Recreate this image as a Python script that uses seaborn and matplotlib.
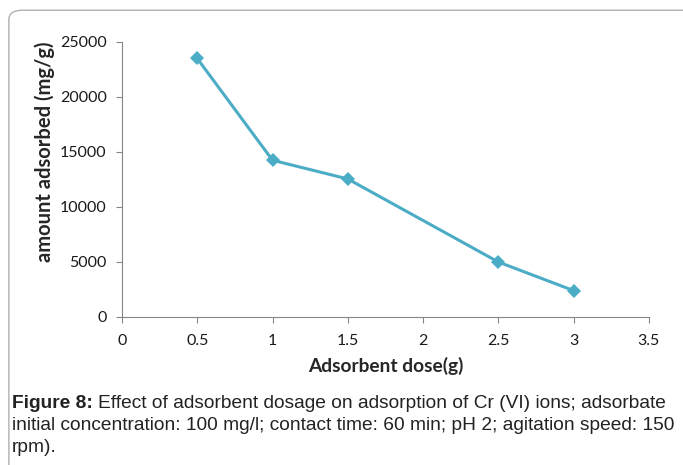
import matplotlib
matplotlib.use('Agg')
import matplotlib.pyplot as plt
import seaborn as sns
import pandas as pd
from matplotlib.patches import FancyBboxPatch

# data
dose = [0.5, 1, 1.5, 2.5, 3]
amount = [23500, 14250, 12550, 5000, 2400]
x_ticks = [0, 0.5, 1, 1.5, 2, 2.5, 3, 3.5]
x_tick_labels = ['0', '0.5', '1', '1.5', '2', '2.5', '3', '3.5']
y_ticks = [0, 5000, 10000, 15000, 20000, 25000]

df = pd.DataFrame({'dose': dose, 'amount': amount})

sns.set_theme(style="white")
plt.rcParams['font.family'] = ['Lato', 'DejaVu Sans']

fig = plt.figure(figsize=(6.83, 4.65), dpi=100)
ax = fig.add_axes([0.1786, 0.3183, 0.7714, 0.5914])

sns.lineplot(data=df, x='dose', y='amount', ax=ax, color='#4BACC6',
             linewidth=2.2, marker='D', markersize=7, markeredgewidth=0)

ax.set_xlim(0, 3.5)
ax.set_ylim(0, 25000)
ax.set_xticks(x_ticks)
ax.set_xticklabels(x_tick_labels)
ax.set_yticks(y_ticks)
ax.tick_params(axis='both', which='major', labelsize=11.5, length=4,
               width=0.8, color='#868686', direction='out', labelcolor='#1a1a1a')
ax.tick_params(axis='y', pad=7)
ax.tick_params(axis='x', pad=8)
ax.xaxis.set_ticks_position('bottom')
ax.yaxis.set_ticks_position('left')
sns.despine(ax=ax)
for s in ['left', 'bottom']:
    ax.spines[s].set_color('#868686')
    ax.spines[s].set_linewidth(0.8)

ax.set_xlabel('Adsorbent dose(g)', fontsize=13.8, fontweight='bold', labelpad=7)
ax.set_ylabel('amount adsorbed (mg/g)', fontsize=14.5, fontweight='bold')
ax.yaxis.set_label_coords(-0.127, 0.6)

# rounded frame around figure
frame = FancyBboxPatch((0.013, -0.05), 1.1, 1.028, boxstyle='round,pad=0,rounding_size=0.02',
                       transform=fig.transFigure, fill=False, edgecolor='#b0b0b0',
                       linewidth=1.0, clip_on=False)
fig.patches.append(frame)

cap_font = ['Liberation Sans', 'DejaVu Sans']
cap_size = 13.75
head = fig.text(0.017, 0.122, 'Figure 8: ', fontsize=cap_size, fontweight='bold',
                family=cap_font, color='#222222')
fig.canvas.draw()
bb = head.get_window_extent().transformed(fig.transFigure.inverted())
fig.text(bb.x1, 0.122,
         'Effect of adsorbent dosage on adsorption of Cr (VI) ions; adsorbate',
         fontsize=cap_size, family=cap_font, color='#222222')
fig.text(0.017, 0.075,
         'initial concentration: 100 mg/l; contact time: 60 min; pH 2; agitation speed: 150',
         fontsize=cap_size, family=cap_font, color='#222222')
fig.text(0.017, 0.028, 'rpm).', fontsize=cap_size, family=cap_font, color='#222222')

fig.savefig('out.png', dpi=100)
